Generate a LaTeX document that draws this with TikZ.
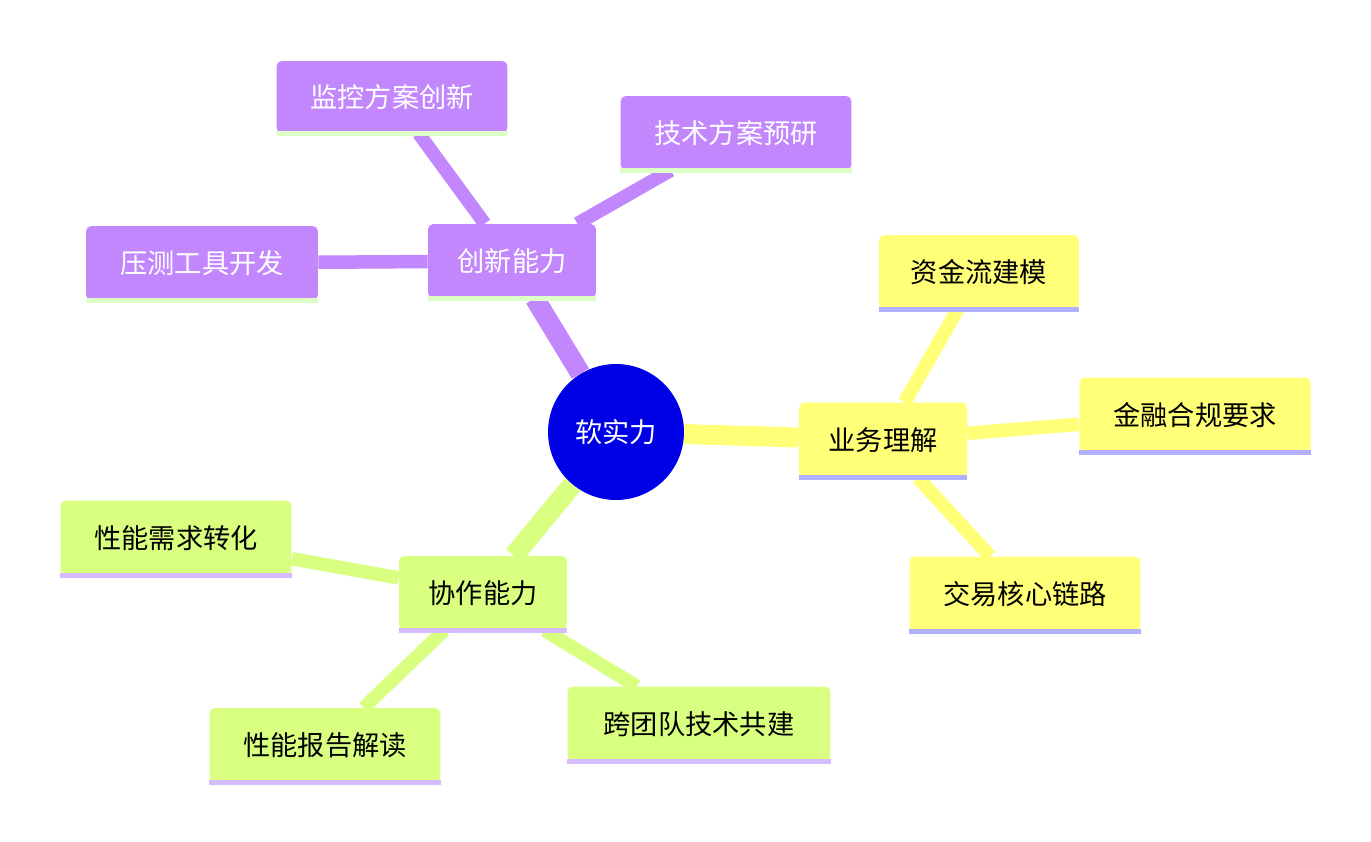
\documentclass[tikz,border=0pt]{standalone}
\usepackage{fontspec}
\setmainfont{Noto Sans CJK SC}
\usetikzlibrary{backgrounds,positioning}
\definecolor{rootblue}{HTML}{0000E6}
\definecolor{inno}{HTML}{C387FD}
\definecolor{innoline}{HTML}{E0FFC8}
\definecolor{biz}{HTML}{FFFF78}
\definecolor{bizline}{HTML}{B0B0FF}
\definecolor{coop}{HTML}{D9FF80}
\definecolor{coopline}{HTML}{D4BCFF}
\begin{document}
\begin{tikzpicture}[x=0.02cm,y=-0.02cm,
    box/.style={rectangle,rounded corners=3pt,inner sep=0pt,font=\fontsize{15.5}{18}\selectfont},
    innobox/.style={box,fill=inno,text=white},
    bizbox/.style={box,fill=biz,text=black},
    coopbox/.style={box,fill=coop,text=black},
    branch/.style={line width=0.4cm},
    twig/.style={line width=0.27cm}
  ]
  \useasboundingbox (0,0) rectangle (1371,841);
  % centre
  \node [circle,fill=rootblue,text=white,minimum size=2.72cm,inner sep=0pt,
    font=\fontsize{15.5}{18}\selectfont] (root) at (616,432) {软实力};
  % sections and leaves
  \node [innobox,minimum width=3.36cm,minimum height=1.48cm] (inn) at (512,261) {创新能力};
  \node [innobox,minimum width=4.62cm,minimum height=1.44cm] (inn1) at (392,97) {监控方案创新};
  \node [innobox,minimum width=4.62cm,minimum height=1.48cm] (inn2) at (736,133) {技术方案预研};
  \node [innobox,minimum width=4.64cm,minimum height=1.48cm] (inn3) at (202,263) {压测工具开发};
  \node [bizbox,minimum width=3.36cm,minimum height=1.5cm] (biz) at (883,440) {业务理解};
  \node [bizbox,minimum width=4.0cm,minimum height=1.48cm] (biz1) at (979,272) {资金流建模};
  \node [bizbox,minimum width=4.62cm,minimum height=1.5cm] (biz2) at (1195,415) {金融合规要求};
  \node [bizbox,minimum width=4.62cm,minimum height=1.5cm] (biz3) at (1025,594) {交易核心链路};
  \node [coopbox,minimum width=3.36cm,minimum height=1.48cm] (coo) at (483,593) {协作能力};
  \node [coopbox,minimum width=4.62cm,minimum height=1.5cm] (coo1) at (176,538) {性能需求转化};
  \node [coopbox,minimum width=4.62cm,minimum height=1.48cm] (coo2) at (325,745) {性能报告解读};
  \node [coopbox,minimum width=5.26cm,minimum height=1.5cm] (coo3) at (699,724) {跨团队技术共建};
  % underlines
  \foreach \n/\c in {inn/innoline,inn1/innoline,inn2/innoline,inn3/innoline,
      biz/bizline,biz1/bizline,biz2/bizline,biz3/bizline,
      coo/coopline,coo1/coopline,coo2/coopline,coo3/coopline}
    \draw [\c,line width=0.1cm] (\n.south west) -- (\n.south east);
  \begin{pgfonlayer}{background}
    \draw [branch,inno] (root) -- (inn);
    \draw [branch,biz] (root) -- (biz);
    \draw [branch,coop] (root) -- (coo);
    \foreach \k in {1,2,3} {
      \draw [twig,inno] (inn) -- (inn\k);
      \draw [twig,biz] (biz) -- (biz\k);
      \draw [twig,coop] (coo) -- (coo\k);
    }
  \end{pgfonlayer}
\end{tikzpicture}
\end{document}
